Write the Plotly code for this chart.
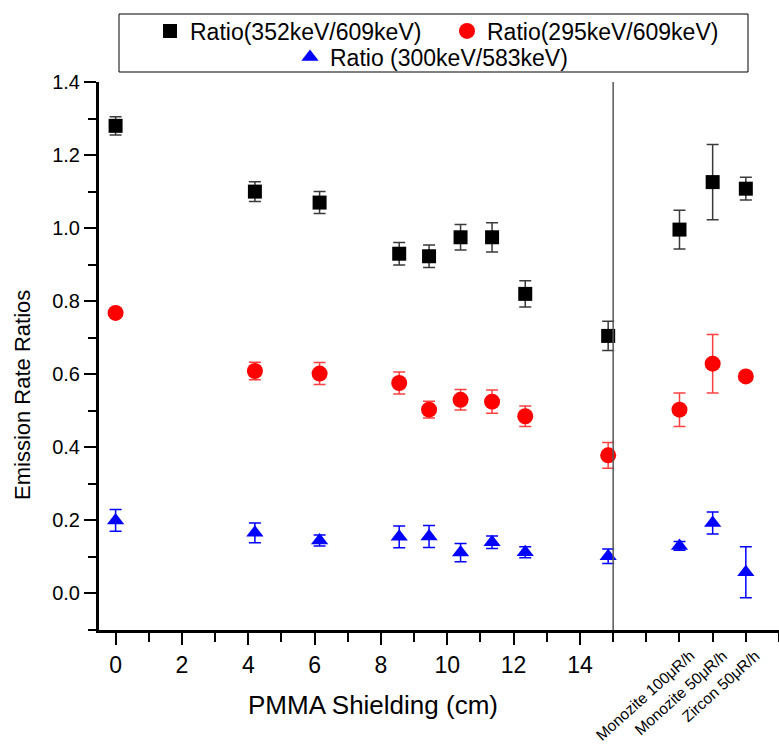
import plotly.graph_objects as go

# PMMA shielding thickness (cm) for each measurement, then the three source samples
shield_cm = [0, 4.2, 6.15, 8.55, 9.45, 10.4, 11.35, 12.35, 14.85]
source_names = ["Monozite 100\u03bcR/h", "Monozite 50\u03bcR/h", "Zircon 50\u03bcR/h"]
source_pos = [17, 18, 19]

# Emission rate ratios and their uncertainties
ratio_352_609 = [1.28, 1.10, 1.07, 0.93, 0.923, 0.975, 0.975, 0.82, 0.705, 0.996, 1.126, 1.108]
err_352_609 = [0.025, 0.027, 0.03, 0.031, 0.031, 0.035, 0.04, 0.036, 0.04, 0.053, 0.103, 0.031]
ratio_295_609 = [0.768, 0.609, 0.602, 0.576, 0.503, 0.530, 0.525, 0.485, 0.378, 0.503, 0.629, 0.594]
err_295_609 = [0.01, 0.024, 0.03, 0.03, 0.023, 0.028, 0.032, 0.028, 0.035, 0.046, 0.08, 0.01]
ratio_300_583 = [0.200, 0.166, 0.145, 0.155, 0.156, 0.112, 0.140, 0.113, 0.102, 0.130, 0.193, 0.058]
err_300_583 = [0.03, 0.027, 0.015, 0.03, 0.03, 0.025, 0.017, 0.015, 0.02, 0.012, 0.03, 0.07]

shield_ticks = [0, 2, 4, 6, 8, 10, 12, 14]
divider_x = 15

FONT = "Liberation Sans, Arial, sans-serif"
W, H = 779, 744
ML, MR, MT, MB = 99, 0, 82, 114
PW, PH = W - ML - MR, H - MT - MB


def px_x(p):
    return (p - ML) / PW


def px_y(p):
    return (H - MB - p) / PH


x_all = shield_cm + source_pos

fig = go.Figure()
fig.add_trace(go.Scatter(
    x=x_all, y=ratio_352_609, mode="markers", name="Ratio(352keV/609keV)",
    marker=dict(symbol="square", size=14, color="black"),
    error_y=dict(type="data", array=err_352_609, color="#3a3a3a", thickness=1.5, width=6),
    legend="legend",
))
fig.add_trace(go.Scatter(
    x=x_all, y=ratio_295_609, mode="markers", name="Ratio(295keV/609keV)",
    marker=dict(symbol="circle", size=16, color="#ff0000"),
    error_y=dict(type="data", array=err_295_609, color="rgba(255,0,0,0.75)", thickness=1.5, width=6),
    legend="legend",
))
fig.add_trace(go.Scatter(
    x=x_all, y=ratio_300_583, mode="markers", name="Ratio (300keV/583keV)",
    marker=dict(symbol="triangle-up", size=15, color="#0000ff"),
    error_y=dict(type="data", array=err_300_583, color="#0000ff", thickness=1.5, width=6),
    legend="legend2",
))

x_range = [-0.5, 20]
y_range = [-0.1, 1.4]

fig.update_layout(
    width=W, height=H,
    margin=dict(l=ML, r=MR, t=MT, b=MB, pad=0),
    paper_bgcolor="white", plot_bgcolor="white",
    font=dict(family=FONT, color="black"),
    showlegend=True,
    xaxis=dict(
        range=x_range, showgrid=False, zeroline=False,
        showline=True, linecolor="black", linewidth=3, mirror=False,
        tickmode="array", tickvals=shield_ticks, ticktext=[str(v) for v in shield_ticks],
        ticks="outside", ticklen=12, tickwidth=2, tickcolor="black",
        tickfont=dict(size=23), ticklabelstandoff=0,
        minor=dict(tickmode="linear", tick0=0, dtick=1, ticks="outside", ticklen=9, tickwidth=2, tickcolor="black"),
    ),
    xaxis2=dict(
        range=x_range, overlaying="x", side="top", anchor="y",
        showgrid=False, zeroline=False, showline=True, linecolor="black", linewidth=3,
        tickmode="linear", tick0=0, dtick=1, ticks="inside", ticklen=10, tickwidth=2,
        tickcolor="black", showticklabels=False,
    ),
    yaxis=dict(
        range=y_range, showgrid=False, zeroline=False,
        showline=True, linecolor="black", linewidth=3, mirror=False,
        tickmode="linear", tick0=0, dtick=0.2, tickformat=".1f",
        ticks="outside", ticklen=12, tickwidth=2, tickcolor="black",
        tickfont=dict(size=20),
        minor=dict(tickmode="linear", tick0=0, dtick=0.1, ticks="outside", ticklen=8, tickwidth=2, tickcolor="black"),
    ),
    yaxis2=dict(
        range=y_range, overlaying="y", side="right", anchor="x",
        showgrid=False, zeroline=False, showline=False,
        tickmode="linear", tick0=0, dtick=0.2, ticks="inside", ticklen=11, tickwidth=2,
        tickcolor="black", showticklabels=False,
        minor=dict(tickmode="linear", tick0=0, dtick=0.1, ticks="inside", ticklen=6, tickwidth=2, tickcolor="black"),
    ),
    legend=dict(
        orientation="h", x=px_x(150), xanchor="left", y=px_y(31), yanchor="middle",
        entrywidth=252, entrywidthmode="pixels",
        bgcolor="rgba(0,0,0,0)", borderwidth=0, font=dict(size=23, family=FONT),
    ),
    legend2=dict(
        orientation="h", x=px_x(290), xanchor="left", y=px_y(57), yanchor="middle",
        bgcolor="rgba(0,0,0,0)", borderwidth=0, font=dict(size=23, family=FONT),
    ),
)

# Frame around both legend rows
fig.add_shape(type="rect", xref="paper", yref="paper",
              x0=px_x(119), x1=px_x(748), y0=px_y(72), y1=px_y(14),
              line=dict(color="black", width=1), fillcolor="rgba(0,0,0,0)", layer="above")

# Divider between the shielding series and the source samples
fig.add_shape(type="line", xref="x", yref="paper", x0=divider_x, x1=divider_x, y0=0, y1=1,
              line=dict(color="#555555", width=1.5), layer="above")

# Angled labels for the source samples
for pos, name in zip(source_pos, source_names):
    fig.add_annotation(x=pos + 0.62, xref="x", y=px_y(644), yref="paper",
                       text=name, textangle=-42, showarrow=False,
                       xanchor="right", yanchor="top",
                       font=dict(size=15.5, family=FONT, color="black"))

# Axis titles
fig.add_annotation(x=7.75, xref="x", y=px_y(705), yref="paper",
                   text="PMMA Shielding (cm)", showarrow=False,
                   xanchor="center", yanchor="middle", font=dict(size=26, family=FONT))
fig.add_annotation(x=px_x(22), xref="paper", y=px_y(395), yref="paper",
                   text="Emission Rate Ratios", textangle=-90, showarrow=False,
                   xanchor="center", yanchor="middle", font=dict(size=22, family=FONT))

fig.write_html("out.html")
